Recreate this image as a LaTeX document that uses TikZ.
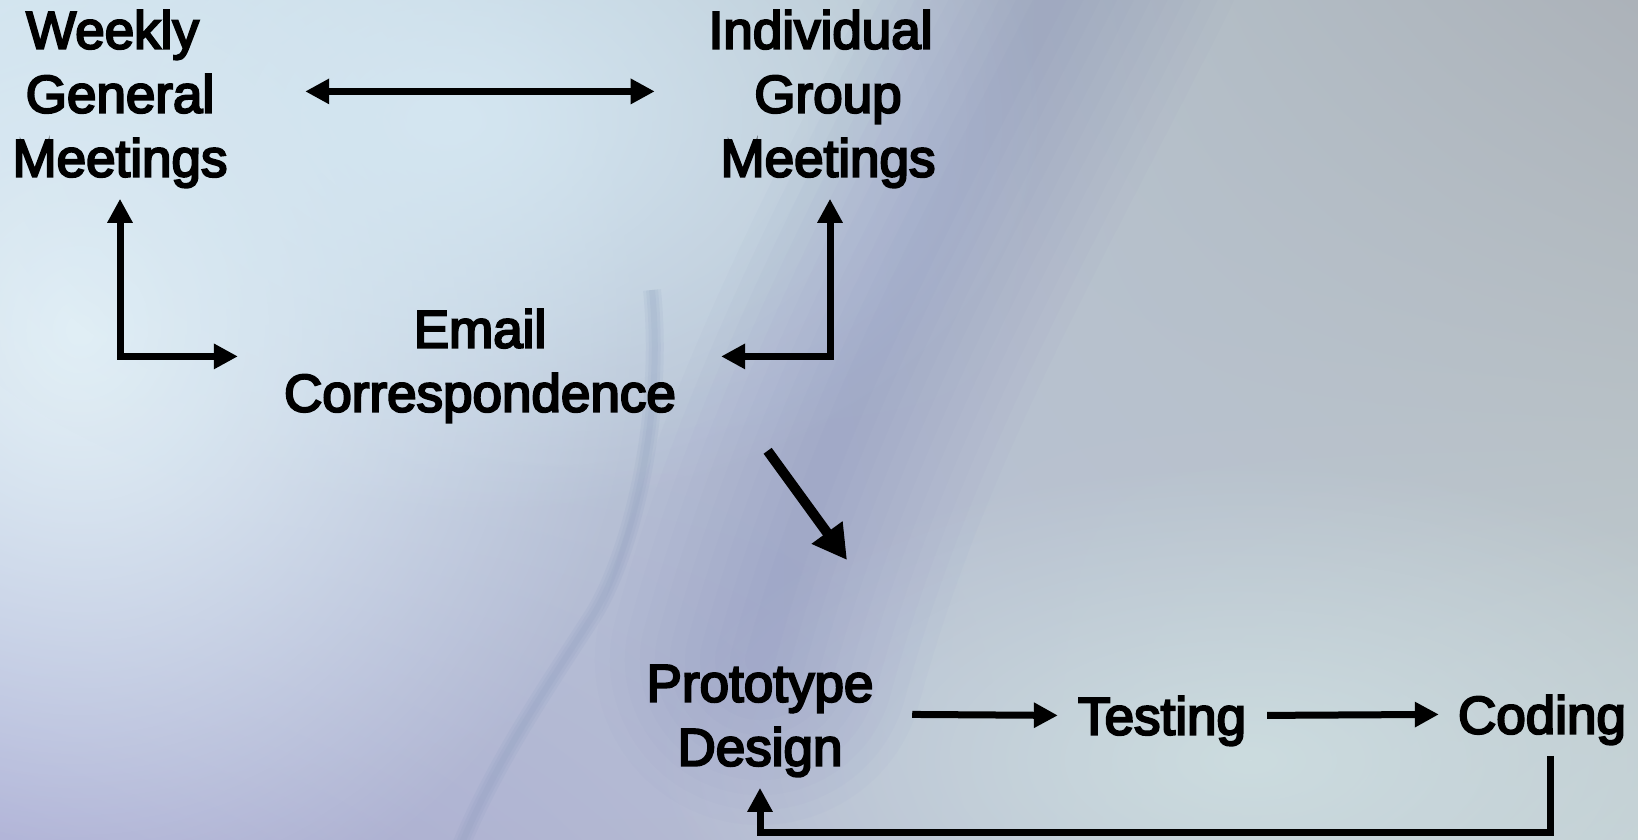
\documentclass[tikz,border=0pt]{standalone}
\usepackage{fontspec}
\setmainfont{Liberation Sans}
\newfontfamily\lblfont{Liberation Sans}[FakeBold=4]
\usetikzlibrary{arrows.meta,fadings,shadings}
\tikzfading[name=glow, inner color=transparent!0, outer color=transparent!100]
\definecolor{bgUL}{HTML}{C6DCEA}
\definecolor{bgUR}{HTML}{ACB2B9}
\definecolor{bgLL}{HTML}{A8A9D2}
\definecolor{bgLR}{HTML}{C3CFD3}
\definecolor{glowL}{HTML}{E4F1F7}
\definecolor{glowT}{HTML}{D4E6F1}
\definecolor{glowBR}{HTML}{CCDCDF}
\definecolor{band}{HTML}{8A8FC0}
\definecolor{swline}{HTML}{7F93B8}
\begin{document}
\begin{tikzpicture}[x=1pt,y=-1pt,
  lbl/.style={font=\lblfont\fontsize{53}{64}\selectfont, align=center, inner sep=0pt, anchor=north, text=black},
  arr/.style={line width=7pt, -{Triangle[length=24pt,width=24pt]}},
  dbl/.style={line width=7pt, {Triangle[length=24pt,width=24pt]}-{Triangle[length=24pt,width=24pt]}},
  bigarr/.style={line width=10pt, -{Triangle[length=34pt,width=36pt]}}]
\useasboundingbox (0,0) rectangle (1638,839);
% background
\begin{scope}
  \clip (0,0) rectangle (1638,839);
  \shade[upper left=bgUL, upper right=bgUR, lower left=bgLL, lower right=bgLR] (0,0) rectangle (1638,839);
  \fill[glowL, path fading=glow] (80,330) ellipse (560 and 620);
  \fill[glowT, path fading=glow] (450,120) ellipse (600 and 400);
  \fill[glowBR, path fading=glow] (1250,760) ellipse (600 and 300);
  \foreach \w in {330,300,...,30}{
    \draw[band, line width=\w pt, opacity=0.045, line cap=round] (1080,-60) .. controls (960,180) and (830,400) .. (760,660);
  }
  \foreach \w in {18,12,6}{
    \draw[swline, line width=\w pt, opacity=0.10] (652,290) .. controls (665,420) and (630,560) .. (590,620) .. controls (545,690) and (490,770) .. (455,860);
  }
\end{scope}
% nodes
\node[lbl] (wgm) at (120,10) {Weekly\rule{0.28em}{0pt}\\General\\Meetings};
\node[lbl] (igm) at (828,10) {Individual\rule{0.28em}{0pt}\\Group\\Meetings};
\node[lbl] (email) at (480,309) {Email\\Correspondence};
\node[lbl] (proto) at (760,665) {Prototype\\Design};
\node[lbl] (test) at (1162,696) {Testing};
\node[lbl] (code) at (1542,695) {Coding};
% connectors
\draw[dbl] ([shift={(77.5,-7.5)}]wgm.east) -- ([shift={(-53.7,-7.5)}]igm.west);
\draw[dbl] ([shift={(0,11)}]wgm.south) |- ([shift={(-46,-9.5)}]email.west);
\draw[dbl] ([shift={(2,11)}]igm.south) |- ([shift={(45,-9.5)}]email.east);
\draw[bigarr] ([shift={(91.5,28)}]email.south east) -- ([shift={(87,-105)}]proto.north);
\draw[arr] ([shift={(38.6,-6.5)}]proto.east) -- ([shift={(-20,-5.5)}]test.west);
\draw[arr] ([shift={(21,-5.5)}]test.east) -- ([shift={(-19,-5.5)}]code.west);
\draw[arr] ([shift={(8,11)}]code.south) -- ++(0,77) -| ([shift={(0,11)}]proto.south);
\end{tikzpicture}
\end{document}
